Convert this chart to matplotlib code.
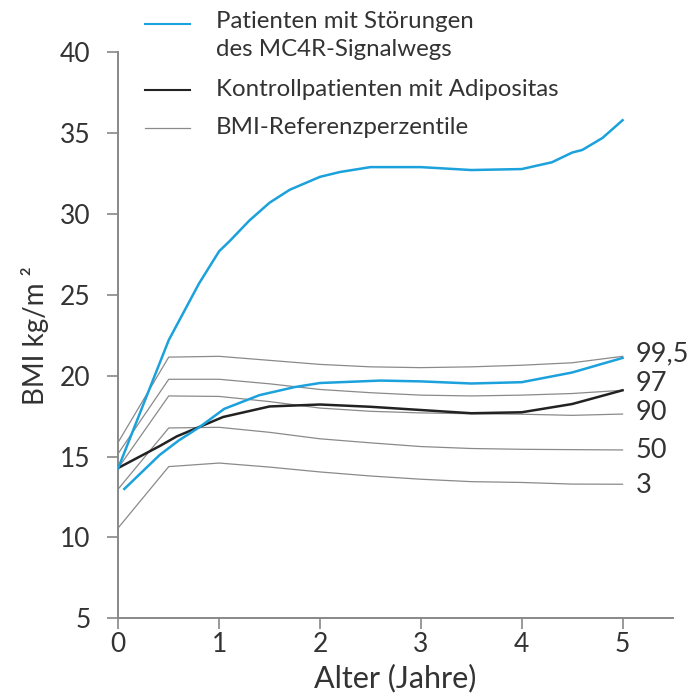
import matplotlib
matplotlib.use("Agg")
import matplotlib.pyplot as plt
from matplotlib.lines import Line2D

plt.rcParams['font.family'] = ['Lato', 'DejaVu Sans']

# --- data ---
ages_mc4r = [0, 0.5, 0.8, 1.0, 1.1, 1.3, 1.5, 1.7, 2.0, 2.2, 2.5, 3.0, 3.5, 4.0, 4.3, 4.5, 4.6, 4.8, 5.0]
bmi_mc4r = [14.3, 22.2, 25.7, 27.7, 28.3, 29.6, 30.7, 31.5, 32.3, 32.6, 32.9, 32.9, 32.72, 32.78, 33.2, 33.8, 33.96, 34.7, 35.8]

ages_mc4r_b = [0.06, 0.41, 0.6, 0.8, 1.05, 1.4, 1.75, 2.0, 2.6, 3.0, 3.5, 4.0, 4.5, 5.0]
bmi_mc4r_b = [13.0, 15.1, 16.0, 16.8, 17.95, 18.8, 19.3, 19.55, 19.7, 19.65, 19.52, 19.6, 20.2, 21.1]

ages_ctrl = [0, 0.41, 0.58, 1.04, 1.5, 2.0, 2.5, 3.0, 3.5, 4.0, 4.5, 5.0]
bmi_ctrl = [14.3, 15.65, 16.25, 17.45, 18.1, 18.22, 18.08, 17.88, 17.68, 17.74, 18.25, 19.1]

p_ages = [0, 0.5, 1.0, 1.5, 2.0, 2.5, 3.0, 3.5, 4.0, 4.5, 5.0]
p99_5 = [15.9, 21.15, 21.2, 20.95, 20.7, 20.55, 20.5, 20.55, 20.65, 20.8, 21.2]
p97 = [15.2, 19.78, 19.78, 19.5, 19.15, 18.95, 18.8, 18.75, 18.8, 18.9, 19.1]
p90 = [14.3, 18.75, 18.72, 18.4, 18.0, 17.8, 17.7, 17.65, 17.62, 17.55, 17.63]
p50 = [13.0, 16.77, 16.81, 16.5, 16.1, 15.85, 15.62, 15.5, 15.45, 15.43, 15.41]
p3 = [10.6, 14.38, 14.6, 14.35, 14.05, 13.8, 13.6, 13.45, 13.4, 13.3, 13.29]
percentiles = [p99_5, p97, p90, p50, p3]
percentile_labels = ["99,5", "97", "90", "50", "3"]
label_y = [21.35, 19.5, 17.7, 15.4, 13.2]

x_ticks = [0, 1, 2, 3, 4, 5]
y_ticks = [5, 10, 15, 20, 25, 30, 35, 40]

legend_labels = ["Patienten mit Störungen\ndes MC4R-Signalwegs",
                 "Kontrollpatienten mit Adipositas",
                 "BMI-Referenzperzentile"]

BLUE = "#1ba1dc"
BLACK = "#222222"
GREY = "#8a8a8a"
TXT = "#333333"
AX = "#888888"

W, H = 699, 693
fig = plt.figure(figsize=(W / 100, H / 100), dpi=100)
ax = fig.add_axes([118.3 / W, 1 - 618.3 / H, (673 - 118.3) / W, (618.3 - 52.3) / H])

for p in percentiles:
    ax.plot(p_ages, p, color=GREY, lw=0.9, zorder=2)
ax.plot(ages_ctrl, bmi_ctrl, color=BLACK, lw=1.8, zorder=3)
ax.plot(ages_mc4r_b, bmi_mc4r_b, color=BLUE, lw=1.8, zorder=4)
ax.plot(ages_mc4r, bmi_mc4r, color=BLUE, lw=1.8, zorder=4)

for lab, yv in zip(percentile_labels, label_y):
    ax.text(5.13, yv, lab, ha='left', va='center', fontsize=19.5, color=TXT, clip_on=False)

ax.set_xlim(0, 5.5)
ax.set_ylim(5, 40)
ax.set_xticks(x_ticks)
ax.set_yticks(y_ticks)
ax.set_xticklabels([str(t) for t in x_ticks])
ax.set_yticklabels([str(t) for t in y_ticks])
for s in ['top', 'right']:
    ax.spines[s].set_visible(False)
for s in ['left', 'bottom']:
    ax.spines[s].set_color(AX)
    ax.spines[s].set_linewidth(1.4)
ax.tick_params(axis='both', colors=AX, length=8, width=1.2, labelsize=19, labelcolor=TXT)
ax.tick_params(axis='y', pad=12)
ax.tick_params(axis='x', pad=2)
ax.set_xlabel("Alter (Jahre)", fontsize=22, color=TXT, labelpad=5)
ax.set_ylabel("BMI kg/m ²", fontsize=20, color=TXT, labelpad=8)

# manual legend in figure pixel coords
def fx(px):
    return px / W

def fy(py):
    return 1 - py / H

legend_rows = [(24, 22, BLUE, 1.5, legend_labels[0]),
               (90, 89, BLACK, 1.5, legend_labels[1]),
               (128, 127, GREY, 0.9, legend_labels[2])]
for ly, ty, c, lw, lab in legend_rows:
    fig.add_artist(Line2D([fx(145), fx(190)], [fy(ly), fy(ly)], color=c, lw=lw))
    if '\n' in lab:
        fig.text(fx(216), fy(11), lab, ha='left', va='top', fontsize=17.3, color=TXT, linespacing=1.4)
    else:
        fig.text(fx(216), fy(ty), lab, ha='left', va='center', fontsize=17.3, color=TXT)

fig.savefig("out.png", dpi=100)
